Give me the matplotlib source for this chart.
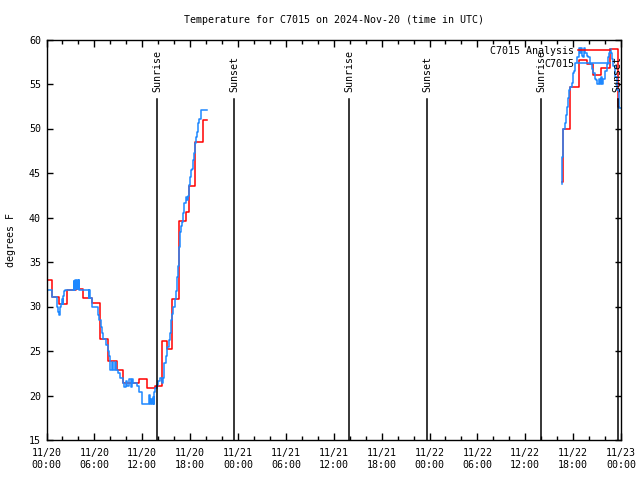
import matplotlib
matplotlib.use("Agg")
import matplotlib.pyplot as plt

# hours since 2024-11-20 00:00 UTC
blue_hours = [0.0, 0.65, 1.28, 1.36, 1.48, 1.61, 1.69, 1.82, 1.94, 2.03, 2.11, 2.23, 2.32,
              3.4, 3.5, 3.6, 3.75, 3.85, 3.95, 4.05, 4.12, 5.3, 5.36, 5.45, 5.66, 6.5, 6.62,
              6.79, 6.91, 7.12, 7.46, 7.67, 7.87, 7.96, 8.17, 8.29, 8.58, 8.71, 8.92, 9.21,
              9.62, 9.75, 9.92, 10.13, 10.38, 10.55, 10.68, 10.88, 11.3, 11.63, 11.93, 12.0,
              12.84, 12.97, 13.1, 13.26, 13.35, 13.43, 13.51, 13.63, 13.81, 14.01, 14.22,
              14.44, 14.56, 14.72, 14.97, 15.14, 15.35, 15.48, 15.6, 15.73, 15.89, 16.1,
              16.23, 16.4, 16.52, 16.64, 16.73, 16.85, 16.98, 17.15, 17.27, 17.48, 17.65,
              17.77, 17.9, 17.98, 18.1, 18.23, 18.32, 18.44, 18.57, 18.65, 18.73, 18.9,
              19.02, 19.15, 19.36, 20.15]
blue_temps = [31.9, 31.1, 30.5, 30.0, 29.4, 29.0, 30.0, 30.3, 30.8, 30.3, 31.2, 31.7, 31.9,
              32.9, 31.9, 33.0, 32.0, 33.0, 32.0, 33.0, 31.9, 31.0, 31.9, 31.0, 30.0, 29.0, 28.5,
              27.7, 27.0, 26.4, 25.7, 25.0, 24.4, 22.9, 23.8, 22.9, 23.8, 22.9, 22.5, 22.0,
              21.4, 21.0, 21.6, 21.1, 21.9, 21.0, 21.9, 21.4, 21.1, 20.4, 20.1, 19.1,
              20.1, 19.1, 19.6, 19.1, 19.8, 19.1, 20.4, 20.8, 21.2, 21.6, 22.0,
              21.4, 22.0, 23.6, 24.4, 25.5, 26.2, 27.0, 28.5, 29.2, 30.0, 30.8,
              31.7, 33.3, 34.5, 36.7, 38.4, 39.0, 39.5, 40.5, 41.6, 42.3, 42.0,
              42.4, 43.7, 44.6, 45.3, 45.4, 46.5, 47.2, 48.0, 48.4, 49.1, 49.6,
              50.6, 51.1, 52.1, 52.1]

blue2_hours = [64.56, 64.64, 64.76, 64.97, 65.1, 65.27, 65.39, 65.52, 65.6, 65.81, 65.94,
               66.1, 66.23, 66.44, 66.77, 66.86, 66.98, 67.1, 67.27, 67.39, 67.52, 67.69,
               67.9, 68.11, 68.32, 68.52, 68.73, 68.86, 69.02, 69.24, 69.36, 69.45, 69.61,
               69.78, 69.99, 70.2, 70.4, 70.53, 70.61, 70.74, 70.86, 71.03, 71.24, 71.53,
               71.7, 71.78, 71.95]
blue2_temps = [43.8, 46.8, 50.0, 50.6, 51.5, 52.4, 53.4, 54.3, 54.7, 55.1, 56.2,
               56.5, 57.4, 58.0, 59.1, 58.5, 59.1, 58.2, 58.0, 59.1, 58.5, 58.2,
               58.0, 57.2, 56.7, 56.2, 55.6, 55.4, 55.0, 55.6, 55.0, 55.8, 55.0,
               55.6, 56.5, 57.2, 58.0, 58.5, 58.9, 58.5, 57.8, 57.0, 55.8, 54.3,
               52.8, 52.3, 52.3]

red_hours = [-0.35, 0.65, 1.6, 2.6, 3.7, 4.6, 5.66, 6.7, 7.7, 8.8, 9.62, 11.63, 12.63,
             13.6, 14.5, 15.1, 15.69, 16.64, 17.48, 17.8, 18.6, 19.65, 20.08]
red_temps = [33.0, 31.1, 30.25, 31.8, 32.0, 31.0, 30.4, 26.4, 23.9, 22.9, 21.4, 21.8, 20.8,
             21.1, 26.1, 25.2, 30.8, 39.6, 40.6, 43.5, 48.5, 50.9, 50.9]

red2_hours = [64.55, 64.75, 65.6, 66.77, 67.77, 68.52, 69.49, 70.6, 71.65, 71.74]
red2_temps = [44.0, 50.0, 54.7, 57.7, 57.2, 56.0, 56.8, 58.9, 52.4, 52.4]

sun_hours = [13.88, 23.53, 37.9, 47.7, 62.0, 71.6]
sun_labels = ["Sunrise", "Sunset", "Sunrise", "Sunset", "Sunrise", "Sunset"]

tick_hours = list(range(0, 73, 6))
tick_labels = ["11/20\n00:00", "11/20\n06:00", "11/20\n12:00", "11/20\n18:00",
               "11/21\n00:00", "11/21\n06:00", "11/21\n12:00", "11/21\n18:00",
               "11/22\n00:00", "11/22\n06:00", "11/22\n12:00", "11/22\n18:00",
               "11/23\n00:00"]

plt.rcParams['font.family'] = ['DejaVu Sans Mono']
plt.rcParams['font.size'] = 7.2

fig = plt.figure(figsize=(6.4, 4.8), dpi=100)
ax = fig.add_axes([46.5 / 640, 1 - 440 / 480, (621 - 46.5) / 640, (440 - 39.5) / 480])

red_c = "#ff0000"
blue_c = "#1e88ff"
ax.step(red_hours, red_temps, where="post", color=red_c, lw=1.1, label="C7015 Analysis")
ax.step(red2_hours, red2_temps, where="post", color=red_c, lw=1.1)
ax.step(blue_hours, blue_temps, where="post", color=blue_c, lw=1.1, label="C7015")
ax.step(blue2_hours, blue2_temps, where="post", color=blue_c, lw=1.1)

for h, lab in zip(sun_hours, sun_labels):
    ax.plot([h, h], [15, 53.3], color="black", lw=1.1)
    ax.text(h, 54.1, lab, rotation=90, ha="center", va="bottom")

ax.set_xlim(0, 72)
ax.set_ylim(15, 60)
ax.set_xticks(tick_hours)
ax.set_xticklabels(tick_labels)
ax.set_xticks(range(0, 73, 2), minor=True)
ax.set_yticks(range(15, 61, 5))
ax.tick_params(which="both", direction="in", top=True, right=True, color="black", width=1)
ax.tick_params(which="major", length=5, pad=6)
ax.tick_params(which="minor", length=3)
ax.tick_params(axis="y", length=4, pad=4)
for s in ax.spines.values():
    s.set_linewidth(1)

ax.set_ylabel("degrees F", labelpad=9, fontsize=7.2)
ax.set_title("Temperature for C7015 on 2024-Nov-20 (time in UTC)", pad=12, fontsize=7.2)

ax.legend(loc="upper right", bbox_to_anchor=((610 - 46.5) / (621 - 46.5), 0.985), frameon=False,
          markerfirst=False, handlelength=3.2, handletextpad=0.4, labelspacing=0.32,
          borderpad=0, borderaxespad=0, bbox_transform=ax.transAxes, fontsize=7.2)

fig.savefig("out.png", dpi=100)
